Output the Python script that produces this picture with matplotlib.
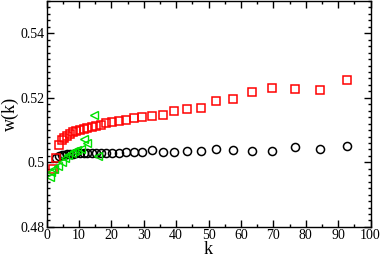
import matplotlib
matplotlib.use("Agg")
import matplotlib.pyplot as plt
from matplotlib.ticker import MultipleLocator

plt.rcParams["font.family"] = ["Liberation Serif", "DejaVu Serif"]

k_red = [2.0, 3.0, 3.8, 4.6, 5.4, 6.3, 7.2, 8.1, 9.1, 10.2, 11.4, 12.6, 13.9, 15.2,
         16.7, 18.3, 20.2, 22.2, 24.4, 26.9, 29.6, 32.5, 35.8, 39.4, 43.3, 47.6,
         52.4, 57.6, 63.4, 69.7, 76.7, 84.4, 92.8]
w_red = [0.4979, 0.5015, 0.5055, 0.5068, 0.5076, 0.5083, 0.5089, 0.5093, 0.5097,
         0.5100, 0.5104, 0.5107, 0.5111, 0.5114, 0.5117, 0.5121, 0.5125, 0.5129,
         0.5131, 0.5139, 0.5141, 0.5143, 0.5147, 0.5159, 0.5166, 0.5169, 0.5191,
         0.5196, 0.5218, 0.5232, 0.5227, 0.5225, 0.5256]

k_black = [3.0, 3.8, 4.6, 5.4, 6.3, 7.2, 8.1, 9.1, 10.2, 11.4, 12.6, 13.9, 15.2,
           16.7, 18.3, 20.2, 22.2, 24.4, 26.9, 29.6, 32.5, 35.8, 39.4, 43.3, 47.6,
           52.4, 57.6, 63.4, 69.7, 76.7, 84.4, 92.8]
w_black = [0.5013, 0.5020, 0.5023, 0.5024, 0.5025, 0.5026, 0.5027, 0.5028, 0.5028,
           0.5029, 0.5029, 0.5029, 0.5029, 0.5029, 0.5029, 0.5029, 0.5030, 0.5033,
           0.5033, 0.5033, 0.5037, 0.5033, 0.5031, 0.5036, 0.5034, 0.5040, 0.5039,
           0.5035, 0.5036, 0.5048, 0.5043, 0.5050]

k_green = [1.0, 1.5, 2.3, 3.6, 4.6, 5.7, 6.7, 7.7, 8.6, 9.5, 10.5, 11.6, 12.4, 14.7, 16.0]
w_green = [0.4955, 0.4970, 0.4980, 0.4990, 0.5002, 0.5014, 0.5022, 0.5029, 0.5034,
           0.5038, 0.5040, 0.5072, 0.5061, 0.5148, 0.5019]

fig = plt.figure(figsize=(3.82, 2.57), dpi=100)
ax = fig.add_axes([0.122, 0.117, 0.848, 0.879])

ax.plot(k_black, w_black, "o", mfc="none", mec="black", ms=5.8, mew=1.1, linestyle="None")
ax.plot(k_red, w_red, "s", mfc="none", mec="#ff0000", ms=6.3, mew=1.1, linestyle="None")
ax.plot(k_green, w_green, "<", mfc="none", mec="#00e000", ms=5.5, mew=1.0, linestyle="None")

ax.set_xlim(0, 100)
ax.set_ylim(0.48, 0.55)
ax.xaxis.set_major_locator(MultipleLocator(10))
ax.xaxis.set_minor_locator(MultipleLocator(5))
ax.yaxis.set_major_locator(MultipleLocator(0.02))
ax.yaxis.set_minor_locator(MultipleLocator(0.002))
ax.set_yticks([0.48, 0.5, 0.52, 0.54])
ax.set_yticklabels(["0.48", "0.5", "0.52", "0.54"])
ax.tick_params(which="both", direction="in", top=True, right=True, labelsize=10, pad=1.5)
ax.tick_params(which="major", length=5, width=1)
ax.tick_params(which="minor", length=2.5, width=1)
for s in ax.spines.values():
    s.set_linewidth(1)

ax.set_xlabel("k", fontsize=13, labelpad=-1)
ax.set_ylabel("w(k)", fontsize=13, labelpad=1)

fig.savefig("out.png", dpi=100)
